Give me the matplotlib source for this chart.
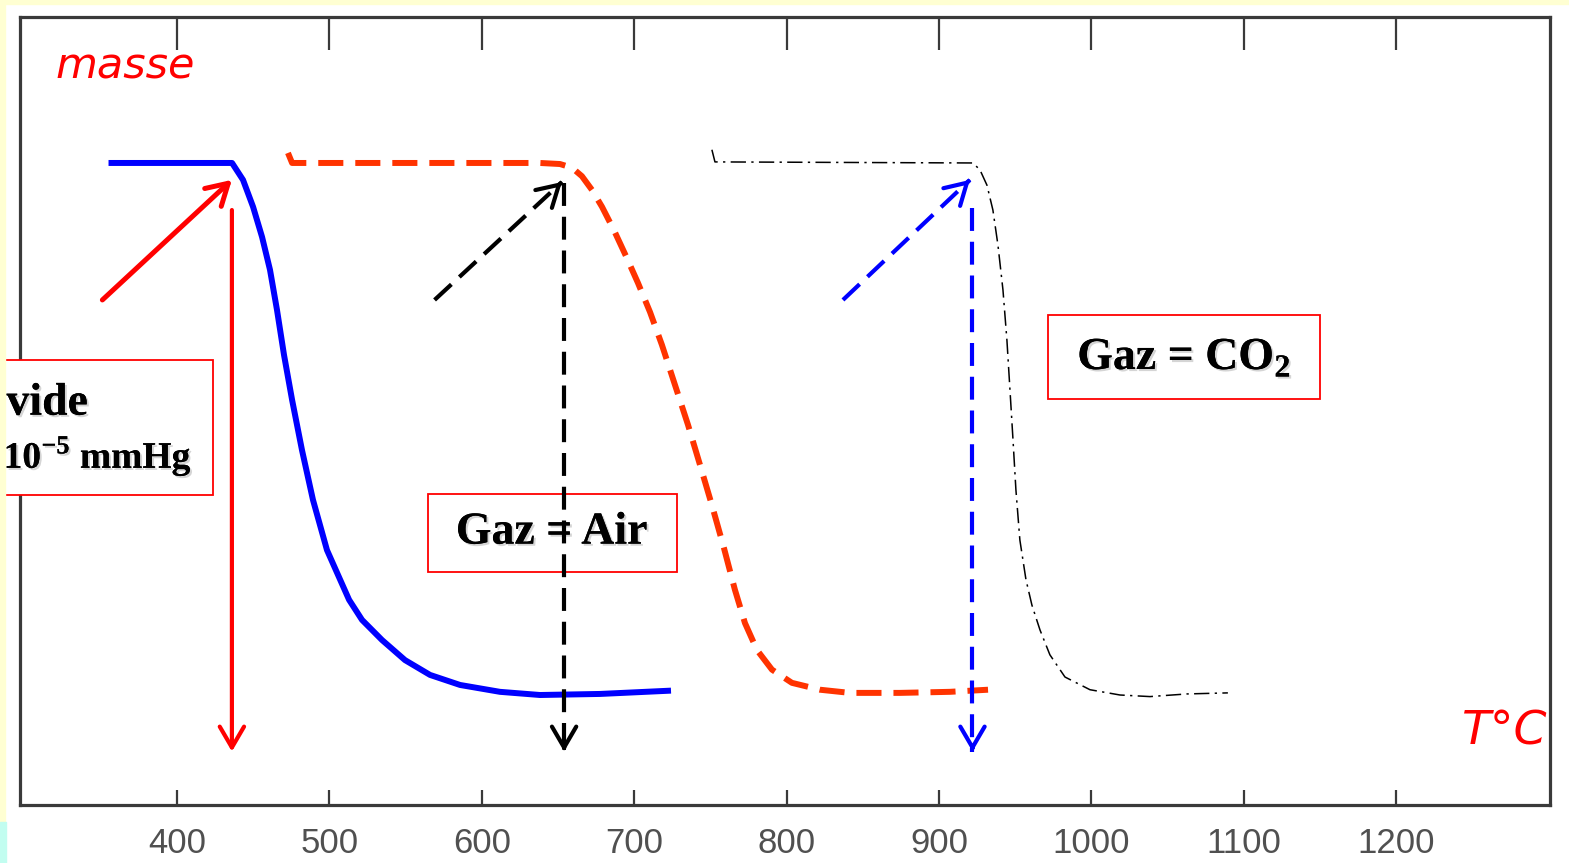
import numpy as np
import matplotlib.pyplot as plt
import matplotlib.patheffects as pe
from matplotlib.patches import Rectangle

plt.rcParams['mathtext.fontset'] = 'custom'
plt.rcParams['mathtext.rm'] = 'Liberation Serif:bold'
plt.rcParams['mathtext.bf'] = 'Liberation Serif:bold'

# courbes thermogravimétriques (T en °C, masse en % relative)
vide_T = [357, 436.1, 443.3, 449.9, 455.8, 461.0, 465.6, 470.2, 475.5, 482.0, 489.2, 498.4,
          512.9, 521.4, 534.5, 549.6, 566.0, 585.7, 611.9, 638.2, 677.6, 722.2]
vide_m = [100, 100, 96.8, 91.7, 86.0, 79.8, 72.2, 63.7, 55.2, 45.7, 36.3, 26.8,
          17.4, 13.6, 9.8, 6.0, 3.2, 1.3, 0, -0.6, -0.4, 0.2]

air_T = [472.8, 475.5, 638.2, 651.3, 659.2, 665.7, 672.3, 678.9, 686.7, 694.6, 702.5, 710.4,
         718.2, 726.8, 735.3, 743.2, 751.0, 758.9, 766.1, 772.7, 780.6, 790.4, 803.5, 821.9,
         841.6, 874.4, 907.2, 932.2]
air_m = [101.9, 100, 100, 99.8, 99.1, 97.5, 94.9, 91.7, 87.3, 82.4, 77.3, 71.8,
         65.6, 58.0, 50.5, 42.9, 35.3, 27.2, 19.3, 13.0, 7.9, 4.2, 1.7, 0.4,
         -0.2, -0.2, 0, 0.4]

co2_T = [751, 753, 922.3, 926.9, 931.5, 935.4, 938.7, 942.0, 944.6, 946.6, 948.6, 950.5,
         953.1, 957.1, 961.0, 966.3, 972.8, 982.7, 999.1, 1018.8, 1038.5, 1062.7, 1089.6]
co2_m = [102.5, 100.2, 100, 98.7, 95.8, 91.1, 84.5, 76.0, 66.5, 57.1, 47.6, 38.2,
         28.7, 21.2, 16.4, 11.7, 7.0, 2.8, 0.4, -0.6, -0.9, -0.4, -0.2]

# températures de début de décomposition (flèches)
T_debut = [436, 654, 922]
ticks_T = [400, 500, 600, 700, 800, 900, 1000, 1100, 1200]

fig = plt.figure(figsize=(15.69, 8.63), dpi=100)
fig.patch.set_facecolor('white')
# bandes de couleur du fond (capture d'écran)
fig.patches.append(Rectangle((0, 0), 0.0035, 1, transform=fig.transFigure, color='#ffffd2', zorder=0))
fig.patches.append(Rectangle((0, 0.995), 1, 0.005, transform=fig.transFigure, color='#ffffd2', zorder=0))
fig.patches.append(Rectangle((0, 0), 0.004, 0.047, transform=fig.transFigure, color='#c2fdf0', zorder=0))

ax = fig.add_axes([0.0128, 0.0672, 0.9751, 0.9131])
ax.set_xlim(297, 1301)
ax.set_ylim(-21.4, 127.6)

spine_col = '#3a3a3a'
for s in ax.spines.values():
    s.set_linewidth(2.3)
    s.set_color(spine_col)

ax.set_xticks(ticks_T)
ax.set_yticks([])
ax.tick_params(axis='x', direction='in', length=11, width=1.6, color=spine_col,
               labelsize=25, labelcolor='#505050', pad=16)
for lab in ax.get_xticklabels():
    lab.set_family('Liberation Sans')

# ticks du haut, plus longs
ax2 = ax.twiny()
ax2.set_xlim(ax.get_xlim())
ax2.set_xticks(ticks_T)
ax2.tick_params(axis='x', direction='in', length=24, width=1.6, color=spine_col, labeltop=False)
for s in ax2.spines.values():
    s.set_visible(False)

# courbes
ax.plot(vide_T, vide_m, color='#0000ff', lw=4.3, solid_joinstyle='round', zorder=3)
ax.plot(air_T, air_m, color='#ff3300', lw=4.3, dashes=(4.2, 2.0), zorder=3)
ax.plot(co2_T, co2_m, color='black', lw=1.1, dashes=(10, 3.5, 1.5, 3.5), zorder=3)

head = dict(arrowstyle='->,head_length=0.6,head_width=0.35', mutation_scale=25,
            shrinkA=0, shrinkB=0)

def fleche(x0, y0, x1, y1, color, lw, dashed):
    if dashed:
        ax.plot([x0, x1], [y0, y1], color=color, lw=lw, dashes=(5.5, 2.6), zorder=6)
        xs = x1 - (x1 - x0) * 0.01
        ys = y1 - (y1 - y0) * 0.01
        ax.annotate('', xy=(x1, y1), xytext=(xs, ys),
                    arrowprops=dict(color=color, lw=lw, **head), zorder=6)
    else:
        ax.annotate('', xy=(x1, y1), xytext=(x0, y0),
                    arrowprops=dict(color=color, lw=lw, **head), zorder=6)

fleche(351, 74.1, T_debut[0], 96.8, 'red', 3.6, False)
fleche(T_debut[0], 91.1, T_debut[0], -11.3, 'red', 3.0, False)
fleche(569, 74.1, 652.6, 96.4, 'black', 3.0, True)
fleche(T_debut[1], 96.2, T_debut[1], -11.3, 'black', 3.0, True)
fleche(837, 74.1, 920.3, 96.8, '#0000ff', 3.0, True)
fleche(T_debut[2], 91.5, T_debut[2], -11.3, '#0000ff', 3.0, True)

shadow = [pe.withSimplePatchShadow(offset=(1.5, -1.5), shadow_rgbFace='#888888', alpha=0.35), pe.Normal()]
box_font = dict(family='Liberation Serif', weight='bold', color='black', path_effects=shadow)

# cadres
ax.add_patch(Rectangle((277, 37.2), 146.6, 25.6, facecolor='white', edgecolor='red',
                       lw=1.3, clip_on=False, zorder=5))
ax.add_patch(Rectangle((564.7, 22.7), 163.4, 14.7, facecolor='white', edgecolor='red',
                       lw=1.3, clip_on=False, zorder=5))
ax.add_patch(Rectangle((971.5, 55.4), 178.5, 15.9, facecolor='white', edgecolor='red',
                       lw=1.3, clip_on=False, zorder=5))

ax.text(341.6, 52.4, 'vide', ha='right', va='baseline', fontsize=33, zorder=7, **box_font)
ax.text(409.8, 42.3, r'10$^{\mathbf{-5}}$ mmHg', ha='right', va='baseline', fontsize=27,
        zorder=7, **box_font)
ax.text(646, 30.1, 'Gaz = Air', ha='center', va='center', fontsize=33, zorder=5.5, **box_font)
ax.text(1061, 63.1, r'Gaz = CO$_{\mathbf{2}}$', ha='center', va='center', fontsize=33,
        zorder=7, **box_font)

ax.text(320, 116, 'masse', color='red', fontsize=31, style='italic', ha='left', va='baseline')
ax.text(1243, -10, 'T°C', color='red', fontsize=34, style='italic', ha='left', va='baseline')

fig.savefig('out.png', dpi=100)
